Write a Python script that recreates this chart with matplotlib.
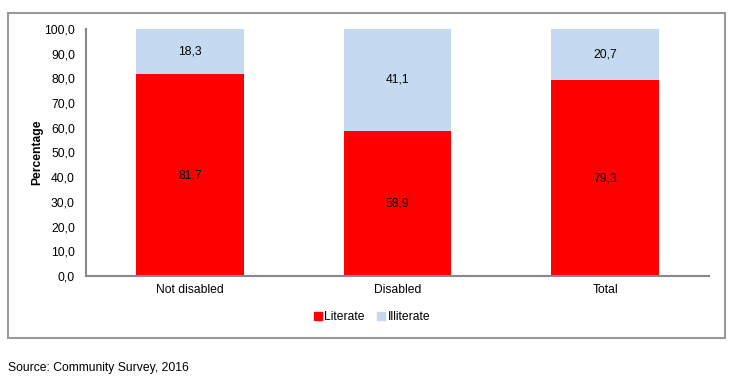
import matplotlib
matplotlib.use("Agg")
import matplotlib.pyplot as plt
from matplotlib.patches import Rectangle, Patch

plt.rcParams['font.family'] = ['Liberation Sans', 'DejaVu Sans']

categories = ['Not disabled', 'Disabled', 'Total']
literate = [81.7, 58.9, 79.3]
illiterate = [18.3, 41.1, 20.7]
yticks = [0, 10, 20, 30, 40, 50, 60, 70, 80, 90, 100]

red = '#FF0000'
blue = '#C5D9F1'
fs = 8.7

fig = plt.figure(figsize=(7.45, 3.85), dpi=100)
ax = fig.add_axes([86/745, 1-276/385, (709-86)/745, (276-29)/385])

x = range(len(categories))
ax.bar(x, literate, width=0.52, color=red, edgecolor='none')
ax.bar(x, illiterate, width=0.52, bottom=literate, color=blue, edgecolor='none')

for i in x:
    ax.text(i, literate[i]/2, f'{literate[i]:.1f}'.replace('.', ','),
            ha='center', va='center', fontsize=fs)
    ax.text(i, literate[i] + illiterate[i]/2, f'{illiterate[i]:.1f}'.replace('.', ','),
            ha='center', va='center', fontsize=fs)

ax.set_xlim(-0.5, 2.5)
ax.set_ylim(0, 100)
ax.set_yticks(yticks)
ax.set_yticklabels([f'{v:.1f}'.replace('.', ',') for v in yticks], fontsize=fs)
ax.set_xticks(list(x))
ax.set_xticklabels(categories, fontsize=fs)
ax.tick_params(length=0, pad=6)
ax.tick_params(axis='y', pad=8)
for s in ['top', 'right']:
    ax.spines[s].set_visible(False)
for s in ['left', 'bottom']:
    ax.spines[s].set_color('#888888')
    ax.spines[s].set_linewidth(1.5)
ax.set_ylabel('Percentage', fontsize=fs, fontweight='bold', labelpad=1)

handles = [Patch(color=red, label='Literate'), Patch(color=blue, label='Illiterate')]
fig.legend(handles=handles, loc='center', bbox_to_anchor=(372/745, 1-317/385),
           ncol=2, frameon=False, fontsize=fs, handlelength=0.7, handleheight=0.7,
           handletextpad=0.2, columnspacing=1.0)

fig.patches.append(Rectangle((8/745, 1-338/385), (725-8)/745, (338-13)/385,
                             transform=fig.transFigure, fill=False,
                             edgecolor='#999999', linewidth=1.5))

fig.text(8/745, 1-368/385, 'Source: Community Survey, 2016', fontsize=fs,
         ha='left', va='center')

fig.savefig('out.png', dpi=100)
